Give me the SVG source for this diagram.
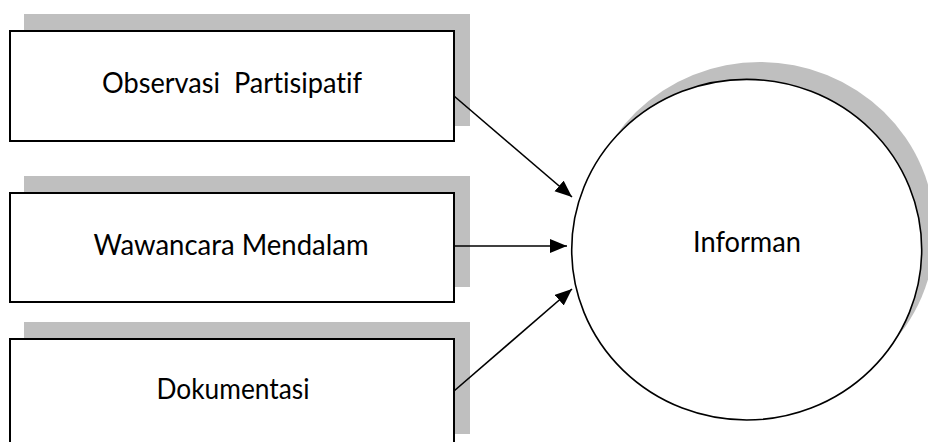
<svg xmlns="http://www.w3.org/2000/svg" width="928" height="442" viewBox="0 0 928 442">
<style>
.shadow{fill:#bfbfbf;stroke:none}
.box{fill:#fff;stroke:#000;stroke-width:2}
.circ{fill:#fff;stroke:#000;stroke-width:1.6}
.lbl{font-family:Lato,"Open Sans",sans-serif;font-size:29px;fill:#000;text-anchor:middle;white-space:pre;font-variant-ligatures:none;font-feature-settings:"liga" 0}
.conn{stroke:#000;stroke-width:1.6;fill:none}
</style>
<defs>
<marker id="ah" markerUnits="userSpaceOnUse" markerWidth="18" markerHeight="15" refX="17" refY="7" orient="auto">
<path d="M0,0 L17,7 L0,14 z" fill="#000"/>
</marker>
</defs>
<rect width="928" height="442" fill="#fff"/>
<g id="node-observasi">
<rect class="shadow" x="24" y="14" width="446" height="112"/>
<rect class="box" x="10" y="31" width="444" height="110"/>
<text class="lbl" x="232" y="93" xml:space="preserve" textLength="260" lengthAdjust="spacingAndGlyphs">Observasi  Partisipatif</text>
</g>
<g id="node-wawancara">
<rect class="shadow" x="24" y="176" width="446" height="111"/>
<rect class="box" x="10" y="193" width="444" height="109"/>
<text class="lbl" x="231" y="255" textLength="275" lengthAdjust="spacingAndGlyphs">Wawancara Mendalam</text>
</g>
<g id="node-dokumentasi">
<rect class="shadow" x="24" y="322" width="446" height="112"/>
<rect class="box" x="10" y="339" width="444" height="112"/>
<text class="lbl" x="233" y="399" textLength="153" lengthAdjust="spacingAndGlyphs">Dokumentasi</text>
</g>
<g id="node-informan">
<ellipse class="shadow" cx="760" cy="232" rx="175" ry="170"/>
<ellipse class="circ" cx="746.7" cy="249.7" rx="175" ry="170.3"/>
<text class="lbl" x="747" y="251.5" textLength="108" lengthAdjust="spacingAndGlyphs">Informan</text>
</g>
<g id="connectors">
<line class="conn" x1="454" y1="96" x2="572" y2="197" marker-end="url(#ah)"/>
<line class="conn" x1="454" y1="246" x2="567" y2="246" marker-end="url(#ah)"/>
<line class="conn" x1="454" y1="391" x2="572" y2="289" marker-end="url(#ah)"/>
</g>
</svg>
